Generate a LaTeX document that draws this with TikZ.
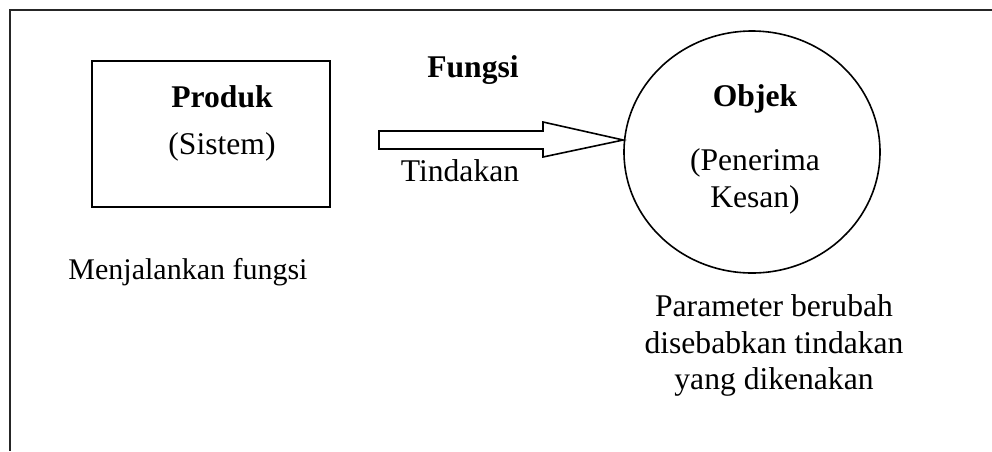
\documentclass[tikz,border=0pt]{standalone}
\usepackage{fontspec}
\setmainfont{Liberation Serif}
\usetikzlibrary{shapes.geometric}
\begin{document}
\begin{tikzpicture}[x=1pt,y=-1pt,
  txt/.style={anchor=base,inner sep=0pt,font=\fontsize{31.6}{38}\selectfont},
  btxt/.style={txt,font=\fontsize{31.6}{38}\selectfont\bfseries},
  frameline/.style={line width=2.2pt,black!85},
  boxshape/.style={draw,line width=2pt,rectangle,inner sep=0pt},
  ellshape/.style={draw,line width=1.6pt,ellipse,inner sep=0pt},
  blockarrow/.style={draw,line width=1.6pt,line join=miter}]
\useasboundingbox (0,0) rectangle (992,451);
% frame (only top and left visible)
\coordinate (ftr) at (992,10);
\coordinate (ftl) at (10,10);
\coordinate (fbl) at (10,451);
\draw[frameline] (ftr) -- (ftl) -- (fbl);
% product box
\node[boxshape,minimum width=238pt,minimum height=146pt] (prod) at (211,134) {};
\node[btxt] (produk) at (222,107) {Produk};
\node[txt] (sistem) at (222,154) {(Sistem)};
\node[txt,font=\fontsize{30}{36}\selectfont] (menj) at (188,279) {Menjalankan fungsi};
% object ellipse
\node[ellshape,minimum width=256pt,minimum height=242pt] (obj) at (752,152) {};
\node[btxt] (objek) at (755,106) {Objek};
\node[txt] (pen) at (755,170) {(Penerima};
\node[txt] (kes) at (755,207) {Kesan)};
\node[txt] (par1) at (774,316) {Parameter berubah};
\node[txt] (par2) at (774,353) {disebabkan tindakan};
\node[txt] (par3) at (774,389) {yang dikenakan};
% block arrow
\coordinate (a1) at (379,131);
\coordinate (a2) at (543,131);
\coordinate (a3) at (543,122);
\coordinate (tip) at (obj.west |- 0,140);
\coordinate (a5) at (543,157);
\coordinate (a6) at (543,149);
\coordinate (a7) at (379,149);
\draw[blockarrow] (a1) -- (a2) -- (a3) -- (tip) -- (a5) -- (a6) -- (a7) -- cycle;
\node[btxt] (fungsi) at (473,77) {Fungsi};
\node[txt] (tind) at (460,181) {Tindakan};
\end{tikzpicture}
\end{document}
